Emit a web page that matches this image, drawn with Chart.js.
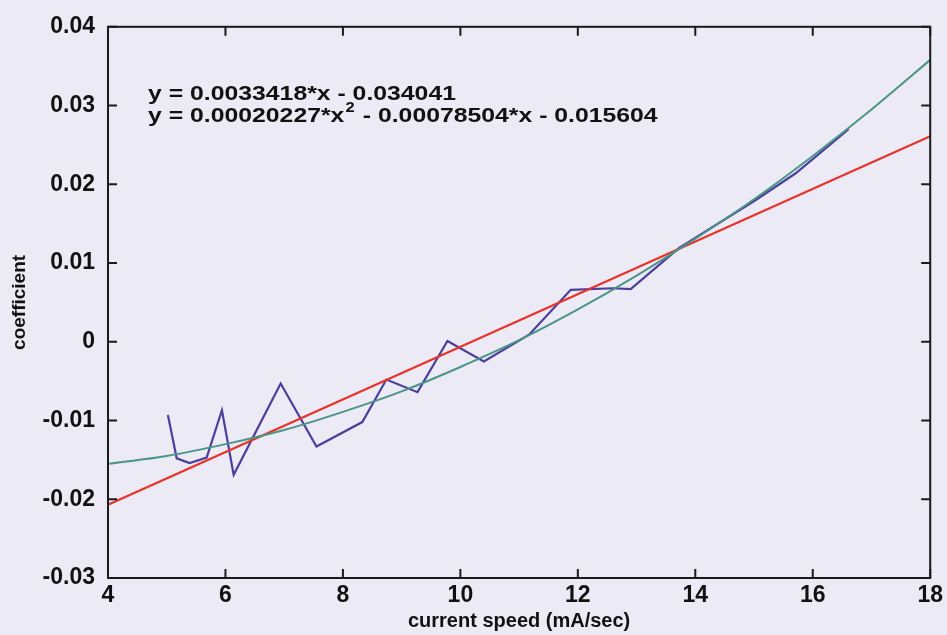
<!DOCTYPE html>
<html>
<head>
<meta charset="utf-8">
<script src="https://cdn.jsdelivr.net/npm/chart.js@4"></script>
<style>
  html, body { margin: 0; padding: 0; background: #ecebf5; }
  #wrap { width: 947px; height: 635px; position: relative; }
</style>
</head>
<body>
<div id="wrap"><canvas id="chart" width="947" height="635"></canvas></div>
<script>
// experimental data (blue)
const dataX = [5.02, 5.17, 5.39, 5.68, 5.94, 6.14, 6.94, 7.55, 8.33, 8.74, 9.27, 9.78, 10.40, 11.17, 11.88, 12.6, 12.9, 13.72, 15.03, 15.71, 16.61];
const dataY = [-0.0093, -0.0148, -0.0154, -0.0147, -0.0087, -0.0169, -0.0053, -0.0133, -0.0102, -0.0048, -0.0064, 0.0001, -0.0025, 0.0009, 0.0066, 0.0068, 0.0067, 0.0119, 0.0180, 0.0214, 0.0270];

// linear fit (red), read at the ends of the axis
const linX = [4, 18];
const linY = [-0.0207, 0.0261];

// quadratic fit (green)
const quadX = [4, 5, 6, 7, 8, 9, 10, 11, 12, 13, 14, 15, 16, 17, 18];
const quadY = [-0.0155, -0.0145, -0.0130, -0.0112, -0.0089, -0.0063, -0.0032, 0.0002, 0.0041, 0.0084, 0.0131, 0.0181, 0.0236, 0.0295, 0.0358];

const xTicks = [4, 6, 8, 10, 12, 14, 16, 18];
const yTicks = [-0.03, -0.02, -0.01, 0, 0.01, 0.02, 0.03, 0.04];

const equations = [
    'y = 0.0033418*x - 0.034041',
    ['y = 0.00020227*x', '2', ' - 0.00078504*x - 0.015604']
];

const FONT = "'Liberation Sans', Arial, sans-serif";

const pts = (xs, ys) => xs.map((x, i) => ({ x: x, y: ys[i] }));

// MATLAB style box with inward ticks, plus the fit equations
const boxPlugin = {
    id: 'box',
    afterDraw(chart) {
        const { ctx, chartArea: a, scales } = chart;
        ctx.save();
        ctx.strokeStyle = '#1a1a1a';
        ctx.lineWidth = 2;
        ctx.strokeRect(a.left, a.top, a.right - a.left, a.bottom - a.top);
        const tl = 9;
        ctx.beginPath();
        xTicks.forEach(v => {
            const px = scales.x.getPixelForValue(v);
            ctx.moveTo(px, a.bottom); ctx.lineTo(px, a.bottom - tl);
            ctx.moveTo(px, a.top); ctx.lineTo(px, a.top + tl);
        });
        yTicks.forEach(v => {
            const py = scales.y.getPixelForValue(v);
            ctx.moveTo(a.left, py); ctx.lineTo(a.left + tl, py);
            ctx.moveTo(a.right, py); ctx.lineTo(a.right - tl, py);
        });
        ctx.stroke();

        // equation text, a bit wider than the font to look like the scan
        const ex = a.left + 40;
        ctx.translate(ex, 0);
        ctx.scale(1.18, 1);
        ctx.fillStyle = '#111';
        ctx.textBaseline = 'alphabetic';
        const big = 'bold 21px ' + FONT;
        ctx.font = big;
        ctx.fillText(equations[0], 0, 100);
        let cx = 0;
        ctx.fillText(equations[1][0], cx, 122);
        cx += ctx.measureText(equations[1][0]).width;
        ctx.font = 'bold 14px ' + FONT;
        ctx.fillText(equations[1][1], cx + 1, 112);
        cx += ctx.measureText(equations[1][1]).width + 2;
        ctx.font = big;
        ctx.fillText(equations[1][2], cx, 122);
        ctx.restore();
    }
};

new Chart(document.getElementById('chart'), {
    type: 'scatter',
    data: {
        datasets: [
            {
                label: 'quadratic fit',
                data: pts(quadX, quadY),
                showLine: true,
                borderColor: '#4a9488',
                borderWidth: 2,
                pointRadius: 0,
                tension: 0.3
            },
            {
                label: 'linear fit',
                data: pts(linX, linY),
                showLine: true,
                borderColor: '#e8332b',
                borderWidth: 2.2,
                pointRadius: 0
            },
            {
                label: 'experimental',
                data: pts(dataX, dataY),
                showLine: true,
                borderColor: '#4b3f9c',
                borderWidth: 2.2,
                pointRadius: 0,
                tension: 0
            }
        ]
    },
    options: {
        responsive: false,
        animation: false,
        layout: { padding: { top: 20, right: 15, left: 0, bottom: 0 } },
        plugins: {
            legend: { display: false },
            tooltip: { enabled: false }
        },
        scales: {
            x: {
                type: 'linear',
                min: 4, max: 18,
                afterFit: s => { s.height = 57; },
                afterBuildTicks: s => { s.ticks = xTicks.map(v => ({ value: v })); },
                grid: { display: false, drawTicks: false },
                border: { display: false },
                ticks: {
                    color: '#111',
                    padding: 4,
                    maxRotation: 0,
                    font: { family: FONT, size: 23, weight: 'bold' },
                    callback: v => String(v)
                },
                title: {
                    display: true,
                    text: 'current speed (mA/sec)',
                    color: '#111',
                    padding: { top: 0, bottom: 2 },
                    font: { family: FONT, size: 20, weight: 'bold' }
                }
            },
            y: {
                type: 'linear',
                min: -0.03, max: 0.04,
                afterFit: s => { s.width = 108; },
                afterBuildTicks: s => { s.ticks = yTicks.map(v => ({ value: v })); },
                grid: { display: false, drawTicks: false },
                border: { display: false },
                ticks: {
                    color: '#111',
                    padding: 13,
                    font: { family: FONT, size: 23, weight: 'bold' },
                    callback: v => String(Math.round(v * 100) / 100)
                },
                title: {
                    display: true,
                    text: 'coefficient',
                    color: '#111',
                    padding: { top: 8, bottom: 0 },
                    font: { family: FONT, size: 19, weight: 'bold' }
                }
            }
        }
    },
    plugins: [boxPlugin]
});
</script>
</body>
</html>
